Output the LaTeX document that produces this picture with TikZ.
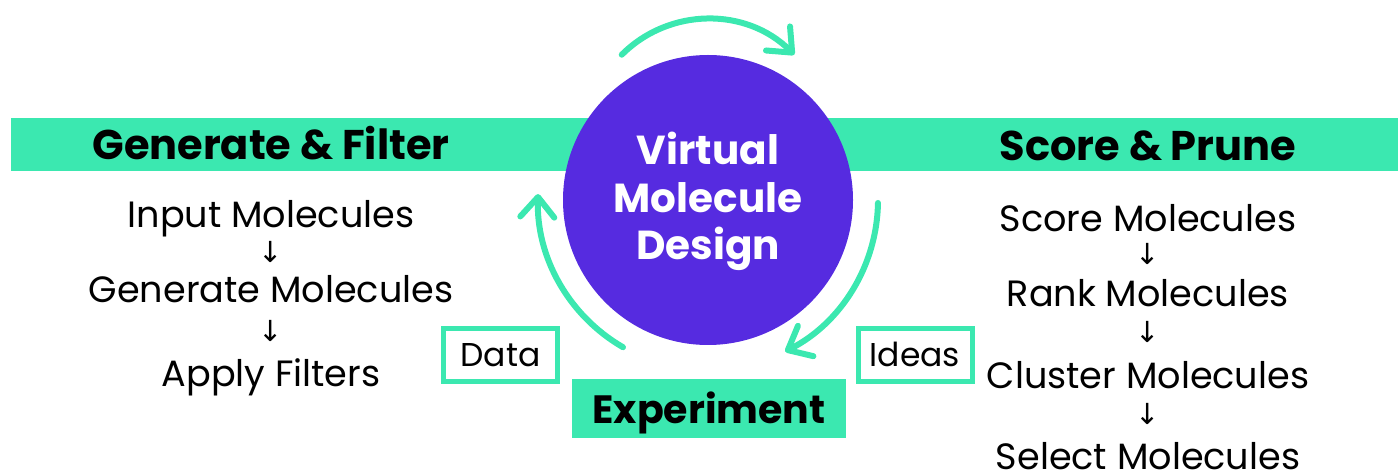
\documentclass[tikz,border=0pt]{standalone}
\usepackage{fontspec}
\setmainfont{Poppins}
\newfontfamily\arrfont{DejaVu Sans}
\usetikzlibrary{arrows.meta}
\definecolor{mint}{RGB}{59,232,176}
\definecolor{violet}{RGB}{86,43,224}
\begin{document}
\begin{tikzpicture}[x=1pt,y=1pt,
  head/.style={font=\fontsize{41.5}{48}\selectfont\bfseries, text=black, anchor=base, inner sep=0},
  item/.style={font=\fontsize{36.6}{44}\selectfont, text=black, anchor=base, inner sep=0},
  down/.style={font=\arrfont\fontsize{29}{32}\selectfont, text=black, inner sep=0},
  core/.style={font=\fontsize{40.5}{48}\selectfont\bfseries, text=white, anchor=base, inner sep=0},
  tag/.style={draw=mint, line width=5pt, minimum width=114pt, minimum height=53pt, inner sep=0,
    text height=24pt, text depth=0pt, font=\fontsize{33}{40}\selectfont, text=black},
  loop/.style={draw=mint, line width=6pt, line cap=round, -{Straight Barb[length=20pt,width=34pt,round]}}
]
\useasboundingbox (0,0) rectangle (1398,474);
% bands
\fill[mint] (11,303) rectangle (1398,356);
% circle
\node[circle, fill=violet, minimum size=290pt, inner sep=0] (vmd) at (708,274) {};
\node[core] (t1) at (708,309) {Virtual};
\node[core] (t2) at (708,261) {Molecule};
\node[core] (t3) at (708,214) {Design};
% headings
\node[head] (gf) at (271,314) {Generate \& Filter};
\node[head] (sp) at (1148,313) {Score \& Prune};
% left list
\node[item] (l1) at (271,246) {Input Molecules};
\node[down] (la) at (271,222) {↓};
\node[item] (l2) at (271,171) {Generate Molecules};
\node[down] (lb) at (271,143) {↓};
\node[item] (l3) at (271,87) {Apply Filters};
% right list
\node[item] (r1) at (1148,242) {Score Molecules};
\node[down] (ra) at (1148,220) {↓};
\node[item] (r2) at (1148,167) {Rank Molecules};
\node[down] (rb) at (1148,142) {↓};
\node[item] (r3) at (1148,85) {Cluster Molecules};
\node[down] (rc) at (1148,60) {↓};
\node[item] (r4) at (1148,4) {Select Molecules};
% experiment
\node[fill=mint, minimum width=274pt, minimum height=59pt, inner sep=0,
  text height=30pt, text depth=0pt, font=\fontsize{39.5}{46}\selectfont\bfseries, text=black] (exp) at (709,65.5) {Experiment};
% tags
\node[tag] (data) at (500.5,119) {Data};
\node[tag] (ideas) at (915,119) {Ideas};
% loop arrows
\draw[loop] (vmd.center) ++(0,59) ++(135:122) arc[start angle=135, end angle=45, radius=122];
\draw[loop] (vmd.center) ++(-1:170) arc[start angle=-1, end angle=-63, radius=170];
\draw[loop] (vmd.center) ++(240:170) arc[start angle=240, end angle=178, radius=170];
\end{tikzpicture}
\end{document}
